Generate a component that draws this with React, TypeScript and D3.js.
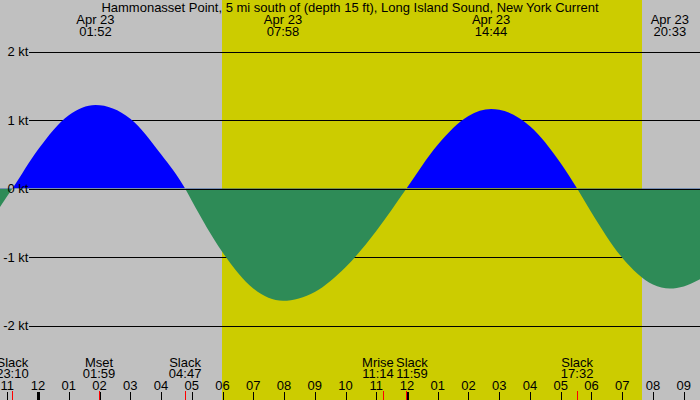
import React, { useEffect, useRef } from 'react';
import * as d3 from 'd3';

// hours are counted from Apr 23 00:00 (negative = Apr 22)
const sampleHours = [-1.25, -1, 0, 1, 3, 4, 5, 6, 7, 9, 10, 11, 13, 14, 15, 16, 17, 18, 19, 20, 21, 21.6];
const sampleSpeeds = [-0.28, -0.11, 0.57, 1.07, 1.02, 0.5, -0.18, -0.93, -1.46, -1.51, -1.15, -0.62, 0.64, 1.06, 1.15, 0.91, 0.37, -0.35, -1.01, -1.4, -1.43, -1.31];

// max flood / max ebb
const maxDates = ['Apr 23', 'Apr 23', 'Apr 23', 'Apr 23'];
const maxTimes = ['01:52', '07:58', '14:44', '20:33'];
const maxSpeeds = [1.22, -1.64, 1.16, -1.46];

// slack and moon events along the bottom
const eventNames = ['Slack', 'Mset', 'Slack', 'Mrise', 'Slack', 'Slack'];
const eventTimes = ['23:10', '01:59', '04:47', '11:14', '11:59', '17:32'];
const eventDays = [-1, 0, 0, 0, 0, 0];

const sunrise = '05:59';
const sunset = '19:38';

const hourLabels = ['11', '12', '01', '02', '03', '04', '05', '06', '07', '08', '09', '10', '11', '12', '01', '02', '03', '04', '05', '06', '07', '08', '09'];
const firstHour = -1;

const ktValues = [2, 1, 0, -1, -2];
const ktLabels = ['2 kt', '1 kt', '0 kt', '-1 kt', '-2 kt'];

const TITLE = 'Hammonasset Point, 5 mi south of (depth 15 ft), Long Island Sound, New York Current';

const toHours = (s: string, day = 0) => {
  const [h, m] = s.split(':').map(Number);
  return day * 24 + h + m / 60;
};

function App() {
  const svgRef = useRef<SVGSVGElement>(null);
  const width = 700;
  const height = 400;

  useEffect(() => {
    if (!svgRef.current) return;
    const svg = d3.select(svgRef.current);
    svg.selectAll('*').remove();

    const font = '"Liberation Sans", Arial, sans-serif';

    const x = d3.scaleLinear().domain([-1.2376, 21.53]).range([0, width]);
    const y = d3.scaleLinear().domain([-2, 2]).range([325.5, 51.5]);
    const y0 = y(0);

    // curve points: readings + maxima + slacks
    const pts: { h: number; v: number }[] = sampleHours.map((h, i) => ({ h, v: sampleSpeeds[i] }));
    maxTimes.forEach((t, i) => pts.push({ h: toHours(t), v: maxSpeeds[i] }));
    eventNames.forEach((n, i) => {
      if (n === 'Slack') pts.push({ h: toHours(eventTimes[i], eventDays[i]), v: 0 });
    });
    pts.sort((a, b) => a.h - b.h);

    // background: night grey, daylight yellow
    svg.append('rect').attr('width', width).attr('height', height).attr('fill', '#c0c0c0');
    const xr = x(toHours(sunrise));
    const xs = x(toHours(sunset));
    svg.append('rect')
      .attr('x', Math.round(xr)).attr('y', 0)
      .attr('width', Math.round(xs) - Math.round(xr)).attr('height', height)
      .attr('fill', '#cccc00');

    // kt grid lines
    svg.selectAll('.grid')
      .data(ktValues)
      .enter().append('line')
      .attr('x1', 29).attr('x2', width)
      .attr('y1', d => Math.round(y(d)) + 0.5)
      .attr('y2', d => Math.round(y(d)) + 0.5)
      .attr('stroke', '#000')
      .attr('stroke-width', 1);

    // fills, clipped above/below zero
    const defs = svg.append('defs');
    defs.append('clipPath').attr('id', 'above')
      .append('rect').attr('x', 0).attr('y', 0).attr('width', width).attr('height', y0);
    defs.append('clipPath').attr('id', 'below')
      .append('rect').attr('x', 0).attr('y', y0).attr('width', width).attr('height', height - y0);

    const area = d3.area<{ h: number; v: number }>()
      .x(d => x(d.h))
      .y0(y0)
      .y1(d => y(d.v))
      .curve(d3.curveMonotoneX);

    svg.append('path').datum(pts).attr('d', area).attr('fill', '#0000ff').attr('clip-path', 'url(#above)');
    svg.append('path').datum(pts).attr('d', area).attr('fill', '#2e8b57').attr('clip-path', 'url(#below)');

    // zero line on top
    svg.append('line')
      .attr('x1', 29).attr('x2', width)
      .attr('y1', Math.round(y0) + 0.5).attr('y2', Math.round(y0) + 0.5)
      .attr('stroke', '#000');

    // kt labels
    svg.selectAll('.ktlab')
      .data(ktValues)
      .enter().append('text')
      .attr('x', 28.5)
      .attr('y', d => y(d) + 4.5)
      .attr('text-anchor', 'end')
      .style('font-family', font)
      .style('font-size', '13px')
      .text((d, i) => ktLabels[i]);

    // title
    svg.append('text')
      .attr('x', width / 2).attr('y', 11.5)
      .attr('text-anchor', 'middle')
      .style('font-family', font).style('font-size', '13px')
      .text(TITLE);

    // max current labels along top
    maxTimes.forEach((t, i) => {
      const cx = x(toHours(t));
      const g = svg.append('text')
        .attr('text-anchor', 'middle')
        .style('font-family', font).style('font-size', '13px');
      g.append('tspan').attr('x', cx).attr('y', 24).text(maxDates[i]);
      g.append('tspan').attr('x', cx).attr('y', 36).text(t);
    });

    // hour ticks
    const tickG = svg.append('g');
    hourLabels.forEach((lab, i) => {
      const h = firstHour + i;
      const tx = Math.round(x(h)) + 0.5;
      const major = ((h % 12) + 12) % 12 === 0;
      tickG.append('line')
        .attr('x1', tx).attr('x2', tx)
        .attr('y1', 392).attr('y2', height)
        .attr('stroke', '#000')
        .attr('stroke-width', major ? 3 : 1);
      tickG.append('text')
        .attr('x', x(h)).attr('y', 390)
        .attr('text-anchor', 'middle')
        .style('font-family', font).style('font-size', '13px')
        .text(lab);
    });

    // bottom events, nudged apart where they collide
    const evX = eventTimes.map((t, i) => x(toHours(t, eventDays[i])));
    const labX = evX.slice();
    const minSep = 34;
    for (let i = 0; i < labX.length - 1; i++) {
      const gap = labX[i + 1] - labX[i];
      if (gap < minSep) {
        const d = (minSep - gap) / 2;
        labX[i] -= d;
        labX[i + 1] += d;
      }
    }
    eventNames.forEach((n, i) => {
      const tx = Math.round(evX[i]) + 0.5;
      svg.append('line')
        .attr('x1', tx).attr('x2', tx)
        .attr('y1', 391).attr('y2', height)
        .attr('stroke', '#ff0000');
      const g = svg.append('text')
        .attr('text-anchor', 'middle')
        .style('font-family', font).style('font-size', '13px');
      g.append('tspan').attr('x', labX[i]).attr('y', 366.5).text(n);
      g.append('tspan').attr('x', labX[i]).attr('y', 378).text(eventTimes[i]);
    });
  }, []);

  return (
    <svg ref={svgRef} width={width} height={height} style={{ position: 'absolute', left: 0, top: 0 }}></svg>
  );
}

export default App;
